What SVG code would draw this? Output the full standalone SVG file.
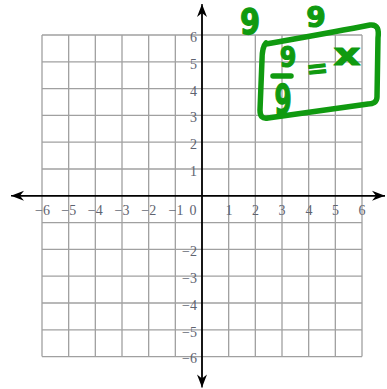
<svg xmlns="http://www.w3.org/2000/svg" width="387" height="389" viewBox="0 0 387 389">
<style>
.grid line{stroke:#a0a0a0;stroke-width:1.3}
.axis{stroke:#000;stroke-width:1.4;fill:none}
.lbl{font-family:"Liberation Serif",serif;font-size:14px;fill:#5e6370}
.xl{text-anchor:middle}
.yl{text-anchor:end}
.ink{stroke:#109a10;stroke-width:5.5;fill:none;stroke-linecap:round;stroke-linejoin:round}
.hw{font-family:"DejaVu Sans",sans-serif;font-weight:bold;fill:#109a10;stroke:#109a10;stroke-width:1.2;stroke-linejoin:round;text-anchor:middle}
</style>
<defs>
<marker id="arr" markerUnits="userSpaceOnUse" markerWidth="16" markerHeight="12" viewBox="-14 -6 16 12" refX="0" refY="0" orient="auto">
<path d="M0,0 L-13,-5 L-9,0 L-13,5 Z" fill="#000"/>
</marker>
</defs>
<rect width="387" height="389" fill="#fff"/>
<g id="grid" class="grid">
<line x1="42" y1="35" x2="42" y2="356.6"/>
<line x1="68.67" y1="35" x2="68.67" y2="356.6"/>
<line x1="95.33" y1="35" x2="95.33" y2="356.6"/>
<line x1="122" y1="35" x2="122" y2="356.6"/>
<line x1="148.67" y1="35" x2="148.67" y2="356.6"/>
<line x1="175.33" y1="35" x2="175.33" y2="356.6"/>
<line x1="228.67" y1="35" x2="228.67" y2="356.6"/>
<line x1="255.33" y1="35" x2="255.33" y2="356.6"/>
<line x1="282" y1="35" x2="282" y2="356.6"/>
<line x1="308.67" y1="35" x2="308.67" y2="356.6"/>
<line x1="335.33" y1="35" x2="335.33" y2="356.6"/>
<line x1="362" y1="35" x2="362" y2="356.6"/>
<line x1="42" y1="35" x2="362" y2="35"/>
<line x1="42" y1="61.8" x2="362" y2="61.8"/>
<line x1="42" y1="88.6" x2="362" y2="88.6"/>
<line x1="42" y1="115.4" x2="362" y2="115.4"/>
<line x1="42" y1="142.2" x2="362" y2="142.2"/>
<line x1="42" y1="169" x2="362" y2="169"/>
<line x1="42" y1="222.6" x2="362" y2="222.6"/>
<line x1="42" y1="249.4" x2="362" y2="249.4"/>
<line x1="42" y1="276.2" x2="362" y2="276.2"/>
<line x1="42" y1="303" x2="362" y2="303"/>
<line x1="42" y1="329.8" x2="362" y2="329.8"/>
<line x1="42" y1="356.6" x2="362" y2="356.6"/>
</g>
<g id="axes">
<line class="axis" x1="14" y1="195.8" x2="385" y2="195.8" marker-end="url(#arr)"/>
<line class="axis" x1="385" y1="195.8" x2="11" y2="195.8" marker-end="url(#arr)"/>
<line class="axis" x1="202" y1="385" x2="202" y2="4" marker-end="url(#arr)"/>
<line class="axis" x1="202" y1="6" x2="202" y2="387.5" marker-end="url(#arr)"/>
</g>
<g id="x-labels" class="lbl xl">
<text x="42.5" y="215">−6</text>
<text x="68.7" y="215">−5</text>
<text x="95.3" y="215">−4</text>
<text x="122" y="215">−3</text>
<text x="148.7" y="215">−2</text>
<text x="176" y="215">−1</text>
<text x="193" y="215">0</text>
<text x="229" y="215">1</text>
<text x="255.5" y="215">2</text>
<text x="282" y="215">3</text>
<text x="309" y="215">4</text>
<text x="335.5" y="215">5</text>
<text x="362" y="215">6</text>
</g>
<g id="y-labels" class="lbl yl">
<text x="197" y="42">6</text>
<text x="197" y="68.8">5</text>
<text x="197" y="95.6">4</text>
<text x="197" y="122.4">3</text>
<text x="197" y="149.2">2</text>
<text x="197" y="176">1</text>
<text x="197" y="256.4">−2</text>
<text x="197" y="283.2">−3</text>
<text x="197" y="310">−4</text>
<text x="197" y="336.8">−5</text>
<text x="197" y="362.6">−6</text>
</g>
<g id="annotation">
<path class="ink" d="M266,44 C300,38 340,31 370,25 C378,24 379,30 378,38 L377,97 C377,102 373,104 368,104 L268,118 C262,119 260,116 260,110 L262,60 C262,52 263,46 266,43"/>
<path class="ink" d="M273,76 L291,76"/>
<text class="hw" transform="translate(250,34) scale(0.85,1.05)" font-size="34">9</text>
<text class="hw" transform="translate(316,27)" font-size="28">9</text>
<text class="hw" transform="translate(288,67) scale(0.85,1)" font-size="28">9</text>
<text class="hw" transform="translate(283,114) scale(0.75,1.25)" font-size="33">9</text>
<text class="hw" transform="translate(318,77) rotate(-6)" font-size="26">=</text>
<text class="hw" transform="translate(347,65) scale(1.4,1)" font-size="30">x</text>
</g>
</svg>
